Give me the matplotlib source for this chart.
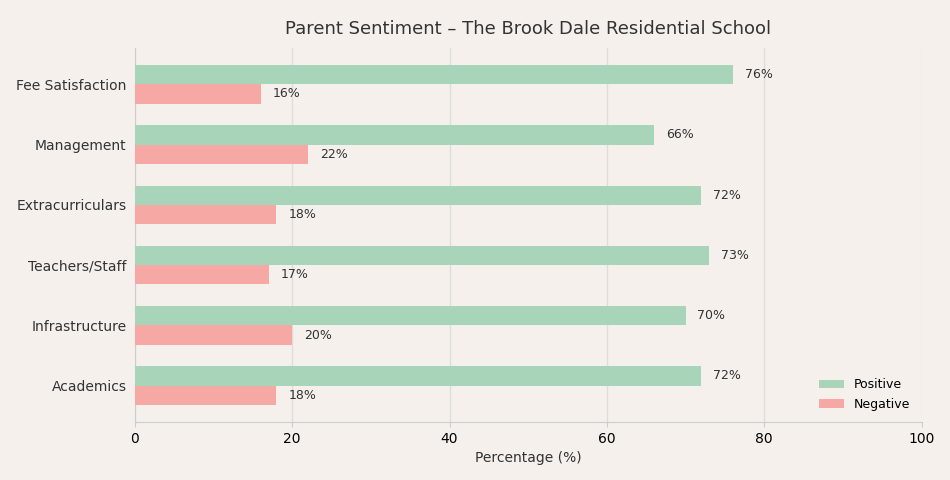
import numpy as np
import matplotlib.pyplot as plt

categories = ["Academics", "Infrastructure", "Teachers/Staff", "Extracurriculars",
              "Management", "Fee Satisfaction"]
positive = [72, 70, 73, 72, 66, 76]
negative = [18, 20, 17, 18, 22, 16]

bg = "#f5f0eb"
green = "#a8d5ba"
red = "#f6a8a4"

fig, ax = plt.subplots(figsize=(9.5, 4.8), dpi=100)
fig.patch.set_facecolor(bg)
ax.set_facecolor(bg)

y = np.arange(len(categories))
h = 0.32
bars_pos = ax.barh(y + h / 2, positive, height=h, color=green, label="Positive", zorder=3)
bars_neg = ax.barh(y - h / 2, negative, height=h, color=red, label="Negative", zorder=3)

for bars, vals in ((bars_pos, positive), (bars_neg, negative)):
    for b, v in zip(bars, vals):
        ax.text(v + 1.5, b.get_y() + b.get_height() / 2, f"{v}%",
                va="center", ha="left", fontsize=9, color="#333333")

ax.set_yticks(y)
ax.set_yticklabels(categories, fontsize=10, color="#333333")
ax.set_xlim(0, 100)
ax.set_xlabel("Percentage (%)", fontsize=10, color="#333333")
ax.set_title("Parent Sentiment – The Brook Dale Residential School",
             fontsize=13, color="#333333", pad=10)

ax.grid(axis="x", color="#dddddd", linewidth=1, zorder=0)
ax.set_axisbelow(True)
for s in ("top", "right"):
    ax.spines[s].set_visible(False)
for s in ("left", "bottom"):
    ax.spines[s].set_color("#cccccc")
ax.tick_params(axis="y", length=0, pad=6)
ax.tick_params(axis="x", colors="#cccccc", labelcolor="black", labelsize=10)

ax.legend(loc="lower right", frameon=False, fontsize=9)

plt.subplots_adjust(left=0.142, right=0.97, top=0.9, bottom=0.121)
plt.savefig("out.png", dpi=100, facecolor=bg)
